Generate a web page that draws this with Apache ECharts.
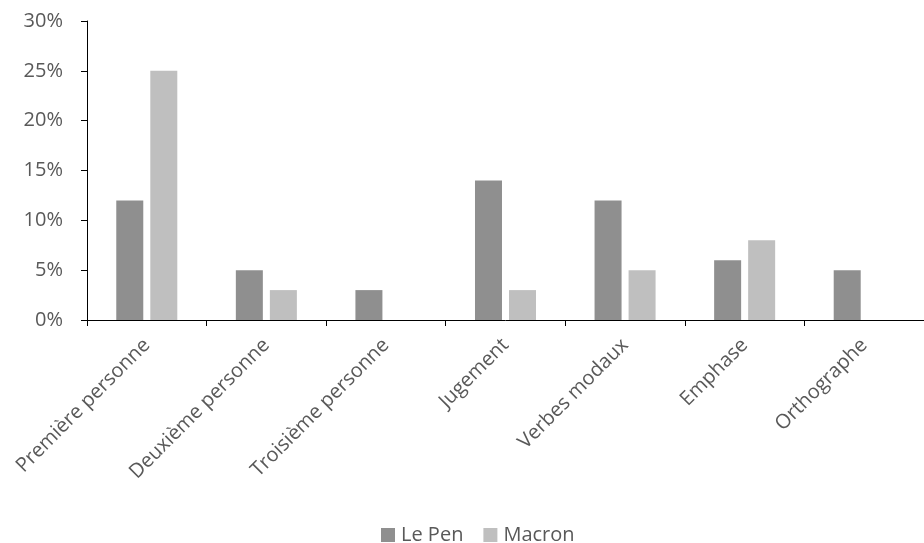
<!DOCTYPE html>
<html>
<head>
<meta charset="utf-8">
<script src="https://cdn.jsdelivr.net/npm/echarts@6/dist/echarts.min.js"></script>
<style>
  html, body { margin: 0; padding: 0; background: #fff; }
  #chart { width: 924px; height: 543px; }
</style>
</head>
<body>
<div id="chart"></div>
<script>
// Categories of linguistic markers
const categories = ['Première personne', 'Deuxième personne', 'Troisième personne', 'Jugement', 'Verbes modaux', 'Emphase', 'Orthographe'];
// Share of each marker (percent)
const lePen = [12, 5, 3, 14, 12, 6, 5];
const macron = [25, 3, 0, 3, 5, 8, 0];
const seriesNames = ['Le Pen', 'Macron'];

const textColor = '#595959';
const fontFamily = '"Open Sans", "Liberation Sans", sans-serif';

const chart = echarts.init(document.getElementById('chart'), null, { renderer: 'canvas' });
chart.setOption({
  animation: false,
  textStyle: { fontFamily: fontFamily, color: textColor },
  grid: { left: 87, right: -4, top: 21, bottom: 223, containLabel: false },
  legend: {
    bottom: -7,
    left: 376,
    icon: 'rect',
    itemWidth: 14,
    itemHeight: 14,
    itemGap: 20,
    textStyle: { fontFamily: fontFamily, color: textColor, fontSize: 20, padding: [0, 0, 0, 1] },
    data: seriesNames
  },
  xAxis: {
    type: 'category',
    data: categories,
    axisLine: { lineStyle: { color: '#000', width: 1 } },
    axisTick: { show: true, length: 6, lineStyle: { color: '#000' } },
    axisLabel: {
      interval: 0,
      rotate: 45,
      margin: 22,
      color: textColor,
      fontSize: 20,
      fontFamily: fontFamily
    },
    splitLine: { show: false }
  },
  yAxis: {
    type: 'value',
    min: 0,
    max: 30,
    interval: 5,
    axisLine: { show: true, lineStyle: { color: '#000', width: 1 } },
    axisTick: { show: true, length: 6, lineStyle: { color: '#000' } },
    axisLabel: {
      formatter: '{value}%',
      color: textColor,
      fontSize: 20,
      margin: 24,
      fontFamily: fontFamily
    },
    splitLine: { show: false }
  },
  series: [
    {
      name: seriesNames[0],
      type: 'bar',
      data: lePen,
      barWidth: 27,
      barGap: '26%',
      itemStyle: { color: '#8f8f8f' }
    },
    {
      name: seriesNames[1],
      type: 'bar',
      data: macron,
      barWidth: 27,
      itemStyle: { color: '#bfbfbf' }
    }
  ]
});
</script>
</body>
</html>
